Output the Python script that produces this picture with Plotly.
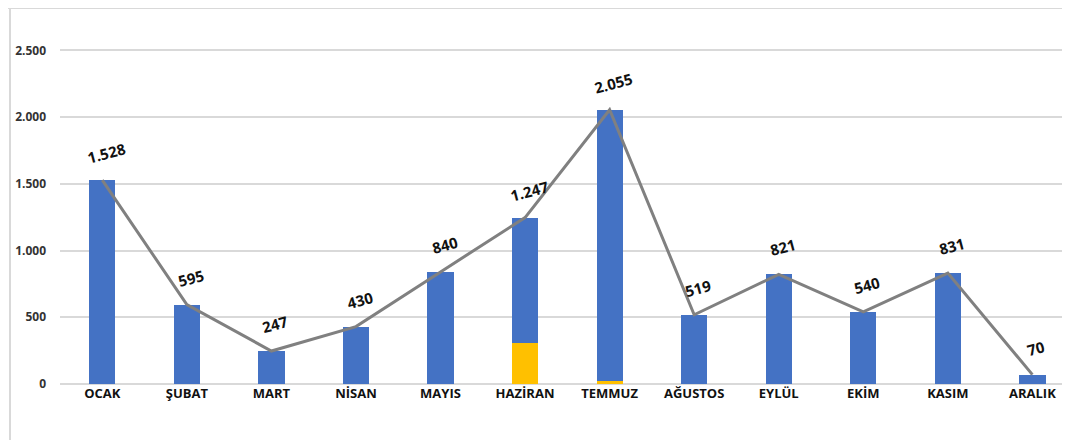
import plotly.graph_objects as go

months = ["OCAK", "ŞUBAT", "MART", "NİSAN", "MAYIS", "HAZİRAN", "TEMMUZ",
          "AĞUSTOS", "EYLÜL", "EKİM", "KASIM", "ARALIK"]
totals = [1528, 595, 247, 430, 840, 1247, 2055, 519, 821, 540, 831, 70]
yellow_part = [0, 0, 0, 0, 0, 305, 25, 0, 0, 0, 0, 0]
blue_part = [t - y for t, y in zip(totals, yellow_part)]
y_ticks = [0, 500, 1000, 1500, 2000, 2500]
y_tick_text = ["0", "500", "1.000", "1.500", "2.000", "2.500"]

BLUE = "#4472C4"
YELLOW = "#FFC000"
LINE = "#808080"
FONT = "Open Sans"

fig = go.Figure()
fig.add_trace(go.Bar(x=months, y=yellow_part, marker=dict(color=YELLOW, line=dict(width=0)),
                     width=0.31, hoverinfo="skip"))
fig.add_trace(go.Bar(x=months, y=blue_part, marker=dict(color=BLUE, line=dict(width=0)),
                     width=0.31, hoverinfo="skip"))
fig.add_trace(go.Scatter(x=months, y=totals, mode="lines",
                         line=dict(color=LINE, width=3), hoverinfo="skip"))

for m, t in zip(months, totals):
    fig.add_annotation(x=m, y=t, text=f"{t:,}".replace(",", "."), showarrow=False,
                       textangle=-15, yshift=27, xshift=4,
                       font=dict(family=FONT, size=15, color="#111111", weight="bold"))

# chart-area frame (top and left edges)
fig.add_shape(type="line", xref="paper", yref="paper", x0=-0.06, x1=1.02, y0=1.0245, y1=1.0245,
              line=dict(color="#D9D9D9", width=2))
fig.add_shape(type="line", xref="paper", yref="paper", x0=-0.0499, x1=-0.0499, y0=-0.2, y1=1.03,
              line=dict(color="#D9D9D9", width=2))

fig.update_layout(
    width=1054, height=432,
    margin=dict(l=52, r=0, t=9, b=56),
    barmode="stack",
    bargap=0.69,
    showlegend=False,
    plot_bgcolor="white",
    paper_bgcolor="white",
    separators=",.",
    font=dict(family=FONT),
)
fig.update_xaxes(range=[-0.5, 11.35], showgrid=False, showline=False, ticks="",
                 tickfont=dict(family=FONT, size=13, color="#111111", weight="bold"),
                 fixedrange=True)
fig.update_yaxes(range=[0, 2750], tickvals=y_ticks, ticktext=y_tick_text,
                 showgrid=True, gridcolor="#D9D9D9", gridwidth=1.5,
                 zeroline=True, zerolinecolor="#D9D9D9", zerolinewidth=1.5,
                 showline=False, ticks="", ticklabelstandoff=13,
                 tickfont=dict(family=FONT, size=12, color="#333333", weight="bold"),
                 fixedrange=True)

fig.write_html("out.html", config={"displayModeBar": False})
